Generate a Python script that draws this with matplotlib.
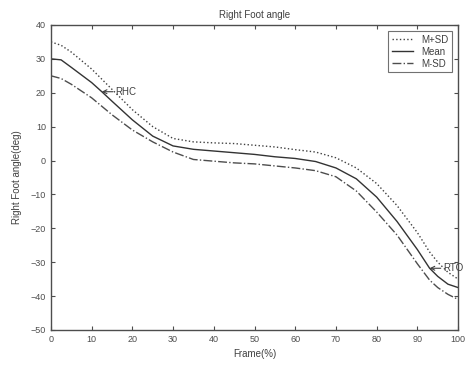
import numpy as np
import matplotlib
matplotlib.use('Agg')
import matplotlib.pyplot as plt

# Frame positions (%) and the three curves
frame = [0, 2.5, 5, 10, 12.5, 15, 20, 25, 30, 35, 40, 45, 50, 55, 60, 65,
         70, 75, 80, 85, 90, 93, 95, 97.5, 100]
mean = [30, 29.7, 27.5, 23, 20.3, 17.5, 12, 7.2, 4.3, 3.3, 2.8, 2.3, 1.8, 1.1,
        0.6, -0.3, -2.2, -5.4, -10.8, -18, -26.3, -31.8, -34.2, -36.5, -37.5]
m_plus_sd = [35, 34, 32, 27, 24, 21, 15, 10, 6.5, 5.5, 5.2, 5, 4.5, 4, 3.2,
             2.5, 0.8, -2.2, -6.8, -13.3, -21.3, -27, -30, -33, -35]
m_minus_sd = [25, 24.2, 22.5, 18.5, 16, 13.5, 9, 5.5, 2.5, 0.3, -0.2, -0.7,
              -1.0, -1.6, -2.2, -3.0, -4.8, -9, -15.2, -22, -30.5, -35.3,
              -37.5, -39.5, -41]

events = ['RHC', 'RTO']
event_x = [12.5, 93]

plt.rcParams['font.family'] = ['Liberation Sans', 'DejaVu Sans']
plt.rcParams['font.size'] = 7

fig = plt.figure(figsize=(4.67, 3.67), dpi=100)
ax = fig.add_axes([0.109, 0.101, 0.872, 0.831])

ax.plot(frame, m_plus_sd, ':', color='0.25', lw=1, label='M+SD')
ax.plot(frame, mean, '-', color='0.2', lw=1, label='Mean')
ax.plot(frame, m_minus_sd, '-.', color='0.3', lw=1, label='M-SD')

# event markers: MATLAB-style "<-RHC" text arrows
for name, ex in zip(events, event_x):
    ey = np.interp(ex, frame, mean)
    ax.annotate(name, xy=(ex, ey), xytext=(10, 0), textcoords='offset points',
                ha='left', va='center', fontsize=7, color='0.25',
                annotation_clip=False,
                arrowprops=dict(arrowstyle='->', color='0.25', lw=0.8,
                                shrinkA=0, shrinkB=0))

ax.set_xlim(0, 100)
ax.set_ylim(-50, 40)
ax.set_xticks(range(0, 101, 10))
ax.set_yticks(range(-50, 41, 10))
ax.tick_params(direction='in', top=True, right=True, length=3, labelsize=6.5,
               colors='0.3')
for s in ax.spines.values():
    s.set_color('0.3')
    s.set_linewidth(1)

ax.set_title('Right Foot angle', fontsize=7, color='0.25', pad=5)
ax.set_xlabel('Frame(%)', fontsize=7, color='0.25', labelpad=4)
ax.set_ylabel('Right Foot angle(deg)', fontsize=7, color='0.25', labelpad=6)

leg = ax.legend(loc='upper right', fontsize=7, frameon=True, fancybox=False,
                edgecolor='0.3', handlelength=2.2, borderaxespad=0.6,
                labelspacing=0.2)
leg.get_frame().set_linewidth(0.8)
for t in leg.get_texts():
    t.set_color('0.25')

fig.savefig('out.png', dpi=100)
